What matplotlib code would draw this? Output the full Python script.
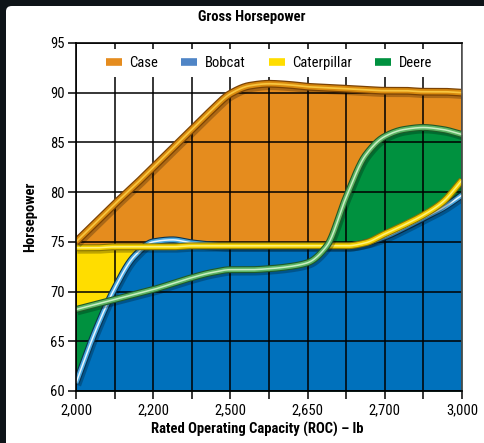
import numpy as np
import matplotlib
matplotlib.use("Agg")
import matplotlib.pyplot as plt
from matplotlib.lines import Line2D
from matplotlib.patches import FancyBboxPatch
import matplotlib.transforms as mtransforms

# ---------------- data ----------------
x_pos = [0, 0.5, 1, 1.5, 2, 2.5, 3, 3.5, 4, 4.5, 5, 5.5, 6, 6.5, 7, 7.5, 8, 8.5, 9, 9.5, 10]
tick_labels = ["2,000", "", "2,200", "", "2,500", "", "2,650", "", "2,700", "", "3,000"]
case = [75.0, 76.9, 78.8, 80.6, 82.5, 84.4, 86.3, 88.2, 89.9, 90.7, 90.9, 90.8, 90.6,
        90.5, 90.4, 90.3, 90.2, 90.2, 90.1, 90.1, 90.0]
bobcat = [60.8, 66.0, 70.3, 73.5, 75.0, 75.2, 74.9, 74.7, 74.6, 74.6, 74.6, 74.6, 74.6,
          74.6, 74.6, 74.9, 75.5, 76.4, 77.4, 78.4, 79.7]
caterpillar = [74.4, 74.4, 74.5, 74.5, 74.5, 74.5, 74.6, 74.6, 74.6, 74.6, 74.6, 74.6, 74.6,
               74.6, 74.6, 74.9, 75.8, 76.7, 77.7, 79.0, 81.2]
deere = [68.2, 68.7, 69.2, 69.7, 70.2, 70.8, 71.4, 71.9, 72.2, 72.2, 72.3, 72.5, 72.9,
         74.6, 79.5, 83.7, 85.6, 86.3, 86.5, 86.3, 85.8]
series_names = ["Case", "Bobcat", "Caterpillar", "Deere"]

# ---------------- helpers ----------------
def pchip(x, y, xn):
    x = np.asarray(x, float); y = np.asarray(y, float)
    h = np.diff(x); d = np.diff(y) / h
    m = np.zeros_like(y)
    for k in range(1, len(x) - 1):
        if d[k - 1] * d[k] > 0:
            w1 = 2 * h[k] + h[k - 1]; w2 = h[k] + 2 * h[k - 1]
            m[k] = (w1 + w2) / (w1 / d[k - 1] + w2 / d[k])
    m[0] = d[0]; m[-1] = d[-1]
    idx = np.clip(np.searchsorted(x, xn) - 1, 0, len(x) - 2)
    t = (xn - x[idx]) / h[idx]
    h00 = 2 * t**3 - 3 * t**2 + 1; h10 = t**3 - 2 * t**2 + t
    h01 = -2 * t**3 + 3 * t**2; h11 = t**3 - t**2
    return h00 * y[idx] + h10 * h[idx] * m[idx] + h01 * y[idx + 1] + h11 * h[idx] * m[idx + 1]

font_fam = ["Liberation Sans Narrow", "Roboto Condensed", "DejaVu Sans"]
plt.rcParams["font.family"] = font_fam

fig = plt.figure(figsize=(4.85, 4.43), dpi=100, facecolor="#0e1418")
bg = fig.add_axes([0, 0, 1, 1], zorder=0)
bg.set_axis_off()
bg.set_xlim(0, 1); bg.set_ylim(0, 1)
panel = FancyBboxPatch((6 / 485, -0.02), 1.05, 1 - 6 / 443 + 0.02,
                       boxstyle="round,pad=0,rounding_size=0.012",
                       transform=bg.transAxes, facecolor="white", edgecolor="none")
bg.add_patch(panel)

ax = fig.add_axes([76 / 485, 1 - 391 / 443, (462 - 76) / 485, (391 - 43) / 443], zorder=2)
ax.set_facecolor("white")

xs = np.linspace(0, 10, 600)
ys = {n: pchip(x_pos, v, xs) for n, v in zip(series_names, [case, bobcat, caterpillar, deere])}

fill_cols = {"Case": "#E58C1E", "Caterpillar": "#FFDD00", "Deere": "#00913F", "Bobcat": "#0071BC"}
for z, n in enumerate(["Case", "Caterpillar", "Deere", "Bobcat"]):
    ax.fill_between(xs, 60, ys[n], color=fill_cols[n], lw=0, zorder=1 + z * 0.1)

line_styles = {
    "Bobcat": ("#0b3350", "#4aa8e0", "#e8f6ff", 5.0),
    "Caterpillar": ("#8a7400", "#f2cf00", "#fff27a", 5.0),
    "Deere": ("#1f5a28", "#5db565", "#c9efc4", 5.0),
    "Case": ("#7a4204", "#d98a0e", "#f8c640", 5.6),
}
shadow_tr = mtransforms.offset_copy(ax.transData, fig=fig, x=1.0, y=-1.5, units="points")
for z, n in enumerate(["Bobcat", "Caterpillar", "Deere", "Case"]):
    dark, mid, hi, w = line_styles[n]
    base = 3 + z
    ax.plot(xs, ys[n], color="black", lw=w + 0.5, alpha=0.25, transform=shadow_tr,
            zorder=base, solid_capstyle="butt")
    ax.plot(xs, ys[n], color=dark, lw=w, zorder=base + 0.1, solid_capstyle="butt")
    ax.plot(xs, ys[n], color=mid, lw=w * 0.68, zorder=base + 0.2, solid_capstyle="butt")
    ax.plot(xs, ys[n], color=hi, lw=w * 0.22, zorder=base + 0.3, solid_capstyle="butt")

ax.set_xlim(0, 10)
ax.set_ylim(60, 95)
ax.set_xticks(range(11))
ax.set_xticklabels(tick_labels)
ax.set_yticks(range(60, 96, 5))
ax.set_axisbelow(False)
ax.grid(True, color="black", lw=1.1, zorder=2.5)
for s in ax.spines.values():
    s.set_linewidth(1.2)
    s.set_color("black")
    s.set_zorder(10)
ax.spines["right"].set_color("#555555")
ax.tick_params(axis="both", direction="out", length=6, width=1.1, labelsize=10.5, color="black")
ax.tick_params(axis="x", pad=3)
ax.tick_params(axis="y", pad=2)

leg_cols = ["#E58C1E", "#4F85C6", "#FFDD00", "#00913F"]
handles = [Line2D([0], [0], color=c, lw=5.5, solid_capstyle="butt") for c in leg_cols]
leg = ax.legend(handles, series_names, loc="center", bbox_to_anchor=(0.5, 0.9425), ncol=4,
                frameon=True, fancybox=False, edgecolor="none", facecolor="white", framealpha=1,
                fontsize=10.5, handlelength=1.1, handletextpad=0.5, columnspacing=1.6,
                borderpad=0.45, borderaxespad=0)
leg.set_zorder(20)

fig.text(252 / 485, 1 - 17 / 443, "Gross Horsepower", ha="center", va="center",
         fontsize=10.5, fontweight="bold", zorder=5)
fig.text(257 / 485, 1 - 429 / 443, "Rated Operating Capacity (ROC) \u2013 lb", ha="center",
         va="center", fontsize=10.5, fontweight="bold", zorder=5)
fig.text(30 / 485, 1 - 217 / 443, "Horsepower", ha="center", va="center", rotation=90,
         fontsize=10.5, fontweight="bold", zorder=5)

fig.savefig("out.png", dpi=100, facecolor=fig.get_facecolor())
